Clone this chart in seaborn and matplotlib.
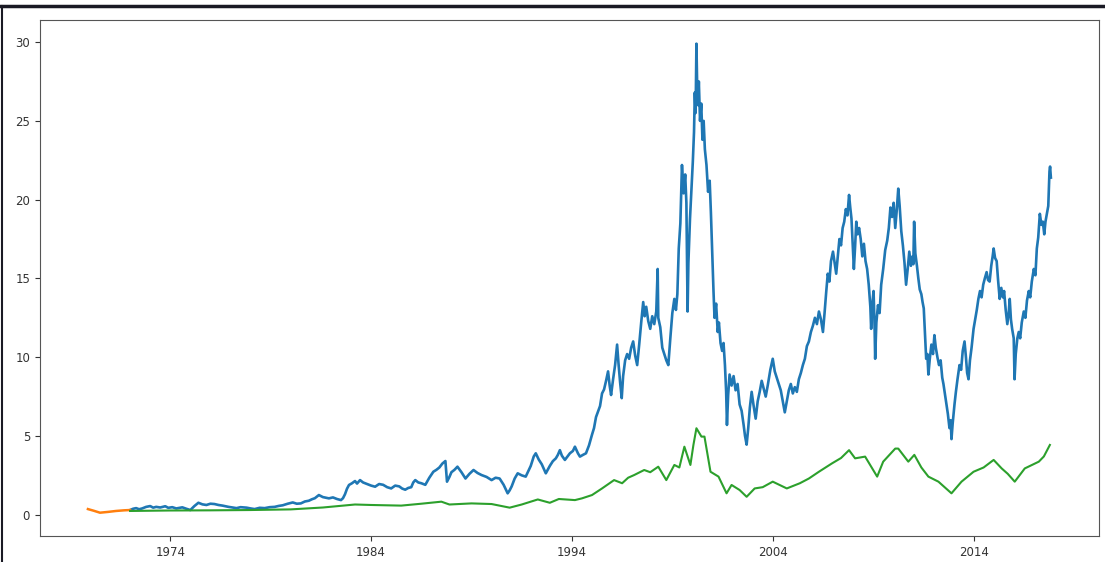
import numpy as np
import pandas as pd
import matplotlib
matplotlib.use("Agg")
import matplotlib.pyplot as plt
from matplotlib.lines import Line2D
import seaborn as sns

# -----------------------------------------------------------------------------
# DATA
# -----------------------------------------------------------------------------

# orange: short first segment
orange_year = [1969.9, 1970.2, 1970.5, 1970.9, 1971.3, 1971.7, 1972.0]
orange_value = [0.36, 0.25, 0.13, 0.18, 0.24, 0.28, 0.30]

# blue: noisy price series
blue_year = [
    1972.0, 1972.15, 1972.3, 1972.45, 1972.6, 1972.8, 1973.0, 1973.15, 1973.3, 1973.5,
    1973.75, 1973.9, 1974.1, 1974.3, 1974.6, 1974.8, 1975.0, 1975.2, 1975.4, 1975.6,
    1975.8, 1976.0, 1976.2, 1976.4, 1976.6, 1976.9, 1977.1, 1977.3, 1977.5, 1977.8,
    1978.0, 1978.2, 1978.45, 1978.7, 1978.95, 1979.2, 1979.4, 1979.6, 1979.85, 1980.1,
    1980.3, 1980.5, 1980.7, 1980.9, 1981.05, 1981.2, 1981.4, 1981.6, 1981.9, 1982.1,
    1982.3, 1982.5, 1982.6, 1982.7, 1982.8, 1982.9, 1983.05, 1983.2, 1983.3, 1983.45,
    1983.6, 1983.8, 1984.0, 1984.2, 1984.4, 1984.6, 1984.8, 1985.0, 1985.2, 1985.4,
    1985.55, 1985.7, 1985.85, 1986.0, 1986.1, 1986.2, 1986.35, 1986.5, 1986.7, 1986.9,
    1987.1, 1987.25, 1987.4, 1987.55, 1987.7, 1987.78, 1987.9, 1988.0, 1988.15, 1988.3,
    1988.5, 1988.7, 1988.9, 1989.1, 1989.3, 1989.5, 1989.75, 1990.0, 1990.2, 1990.4,
    1990.6, 1990.8, 1990.9, 1991.0, 1991.15, 1991.3, 1991.5, 1991.7, 1991.95, 1992.1,
    1992.2, 1992.35, 1992.5, 1992.7, 1992.9, 1993.05, 1993.2, 1993.3, 1993.4, 1993.5,
    1993.65, 1993.9, 1994.05, 1994.15, 1994.3, 1994.4, 1994.55, 1994.7, 1994.85, 1995.0,
    1995.1, 1995.2, 1995.3, 1995.4, 1995.5, 1995.6, 1995.7, 1995.8, 1995.88, 1995.95,
    1996.05, 1996.15, 1996.25, 1996.32, 1996.4, 1996.48, 1996.55, 1996.65, 1996.75, 1996.85,
    1996.95, 1997.05, 1997.15, 1997.25, 1997.35, 1997.45, 1997.55, 1997.62, 1997.7, 1997.8,
    1997.9, 1998.0, 1998.1, 1998.2, 1998.27, 1998.3, 1998.4, 1998.5, 1998.6, 1998.7,
    1998.8, 1998.9, 1999.0, 1999.1, 1999.18, 1999.25, 1999.32, 1999.4, 1999.48, 1999.56,
    1999.64, 1999.7, 1999.76, 1999.8, 1999.88, 1999.95, 2000.02, 2000.08, 2000.12, 2000.16,
    2000.2, 2000.24, 2000.28, 2000.32, 2000.38, 2000.44, 2000.5, 2000.56, 2000.62, 2000.7,
    2000.78, 2000.86, 2000.92, 2000.98, 2001.05, 2001.1, 2001.18, 2001.26, 2001.32, 2001.4,
    2001.48, 2001.55, 2001.62, 2001.68, 2001.72, 2001.78, 2001.85, 2001.95, 2002.05, 2002.15,
    2002.25, 2002.35, 2002.45, 2002.55, 2002.62, 2002.7, 2002.78, 2002.86, 2002.95, 2003.05,
    2003.15, 2003.25, 2003.35, 2003.45, 2003.55, 2003.65, 2003.75, 2003.88, 2004.0, 2004.1,
    2004.2, 2004.3, 2004.4, 2004.5, 2004.6, 2004.7, 2004.8, 2004.9, 2005.0, 2005.1,
    2005.2, 2005.3, 2005.4, 2005.5, 2005.6, 2005.7, 2005.8, 2005.9, 2006.0, 2006.1,
    2006.2, 2006.3, 2006.4, 2006.5, 2006.58, 2006.66, 2006.74, 2006.82, 2006.9, 2007.0,
    2007.08, 2007.16, 2007.24, 2007.32, 2007.4, 2007.48, 2007.56, 2007.64, 2007.72, 2007.8,
    2007.86, 2007.92, 2007.98, 2008.04, 2008.1, 2008.16, 2008.22, 2008.3, 2008.38, 2008.46,
    2008.54, 2008.62, 2008.7, 2008.78, 2008.86, 2008.9, 2008.96, 2009.02, 2009.07, 2009.1,
    2009.16, 2009.24, 2009.32, 2009.4, 2009.5, 2009.6, 2009.7, 2009.78, 2009.86, 2009.94,
    2010.02, 2010.1, 2010.18, 2010.25, 2010.32, 2010.4, 2010.48, 2010.56, 2010.64, 2010.72,
    2010.8, 2010.88, 2010.96, 2011.0, 2011.04, 2011.1, 2011.18, 2011.25, 2011.32, 2011.4,
    2011.46, 2011.52, 2011.58, 2011.64, 2011.7, 2011.75, 2011.82, 2011.9, 2011.98, 2012.05,
    2012.12, 2012.2, 2012.28, 2012.36, 2012.44, 2012.5, 2012.58, 2012.65, 2012.72, 2012.8,
    2012.86, 2012.9, 2012.96, 2013.05, 2013.12, 2013.2, 2013.3, 2013.38, 2013.46, 2013.55,
    2013.62, 2013.68, 2013.75, 2013.82, 2013.9, 2014.0, 2014.08, 2014.16, 2014.24, 2014.32,
    2014.4, 2014.48, 2014.56, 2014.65, 2014.72, 2014.8, 2014.88, 2014.95, 2015.0, 2015.07,
    2015.15, 2015.22, 2015.3, 2015.38, 2015.46, 2015.52, 2015.6, 2015.68, 2015.75, 2015.8,
    2015.86, 2015.92, 2016.0, 2016.04, 2016.1, 2016.18, 2016.25, 2016.32, 2016.4, 2016.5,
    2016.58, 2016.66, 2016.75, 2016.82, 2016.9, 2017.0, 2017.08, 2017.15, 2017.22, 2017.3,
    2017.38, 2017.45, 2017.52, 2017.58, 2017.65, 2017.72, 2017.78, 2017.81, 2017.85,
]
blue_value = [
    0.30, 0.38, 0.42, 0.35, 0.40, 0.50, 0.55, 0.45, 0.50, 0.46,
    0.54, 0.44, 0.48, 0.40, 0.47, 0.38, 0.30, 0.55, 0.76, 0.66,
    0.62, 0.70, 0.68, 0.62, 0.58, 0.50, 0.46, 0.42, 0.48, 0.45,
    0.40, 0.36, 0.44, 0.42, 0.48, 0.50, 0.56, 0.60, 0.70, 0.78,
    0.70, 0.72, 0.84, 0.89, 0.98, 1.05, 1.25, 1.12, 1.04, 1.10,
    1.00, 0.93, 1.05, 1.30, 1.65, 1.89, 2.00, 2.14, 1.98, 2.20,
    2.05, 1.95, 1.85, 1.78, 1.95, 1.90, 1.75, 1.67, 1.85, 1.80,
    1.66, 1.59, 1.70, 1.75, 2.05, 2.20, 2.05, 2.00, 1.90, 2.35,
    2.73, 2.85, 3.00, 3.25, 3.41, 2.10, 2.40, 2.70, 2.85, 3.05,
    2.70, 2.30, 2.60, 2.84, 2.65, 2.52, 2.40, 2.20, 2.35, 2.30,
    1.90, 1.36, 1.55, 1.80, 2.30, 2.63, 2.50, 2.42, 3.10, 3.70,
    3.90, 3.50, 3.20, 2.63, 3.10, 3.40, 3.58, 3.80, 4.10, 3.75,
    3.48, 3.90, 4.05, 4.32, 3.90, 3.69, 3.80, 3.90, 4.40, 5.08,
    5.50, 6.20, 6.55, 6.90, 7.70, 7.95, 8.50, 9.10, 8.20, 7.60,
    8.60, 9.50, 10.80, 9.60, 8.40, 7.40, 8.80, 9.80, 10.20, 9.90,
    10.60, 11.00, 10.10, 9.50, 10.80, 12.20, 13.50, 12.60, 13.20, 12.30,
    11.80, 12.60, 12.10, 12.90, 15.60, 12.50, 11.90, 10.60, 10.20, 9.80,
    9.50, 11.20, 12.80, 13.70, 13.00, 14.00, 16.90, 18.50, 22.20, 20.40,
    21.60, 19.80, 12.90, 16.00, 18.80, 20.60, 22.40, 24.30, 26.80, 25.50,
    29.90, 27.00, 26.00, 27.50, 25.00, 26.10, 23.80, 25.00, 23.20, 22.20,
    20.50, 21.20, 19.20, 16.80, 14.20, 12.50, 13.40, 11.60, 12.20, 10.90,
    10.40, 10.90, 9.50, 7.80, 5.70, 7.60, 8.90, 8.20, 8.80, 7.90,
    8.30, 7.00, 6.60, 5.70, 5.00, 4.45, 5.50, 6.80, 7.80, 6.90,
    6.10, 7.20, 7.80, 8.50, 8.00, 7.50, 8.20, 9.20, 9.90, 9.10,
    8.70, 8.30, 7.90, 7.20, 6.50, 7.20, 7.90, 8.30, 7.70, 8.10,
    7.80, 8.60, 9.00, 9.50, 9.90, 10.70, 11.00, 11.60, 12.00, 12.50,
    12.10, 12.90, 12.40, 11.60, 12.80, 14.10, 15.30, 14.80, 16.10, 16.70,
    16.00, 15.30, 16.40, 17.50, 17.10, 18.20, 18.60, 19.40, 19.00, 20.30,
    19.50, 18.80, 17.20, 15.60, 17.00, 18.60, 17.80, 18.20, 17.50, 16.40,
    17.20, 16.10, 15.60, 14.60, 13.20, 11.80, 13.40, 14.20, 12.00, 9.90,
    12.20, 13.30, 12.80, 14.60, 15.60, 16.80, 17.40, 18.20, 19.50, 18.90,
    19.80, 18.20, 19.40, 20.70, 19.60, 18.00, 17.10, 16.00, 14.60, 15.60,
    16.70, 15.80, 16.40, 15.90, 18.60, 16.60, 15.80, 15.00, 14.30, 14.00,
    13.50, 13.10, 11.50, 9.90, 10.20, 8.90, 9.90, 10.80, 10.20, 11.40,
    10.60, 10.00, 9.50, 9.80, 8.70, 8.30, 7.60, 7.00, 6.40, 5.50,
    6.00, 4.80, 5.80, 7.00, 7.80, 8.60, 9.50, 9.20, 10.40, 11.00,
    10.00, 9.00, 8.60, 9.80, 10.60, 11.80, 12.40, 13.00, 13.70, 14.20,
    13.80, 14.60, 15.00, 15.40, 14.90, 14.80, 15.80, 16.40, 16.90, 16.30,
    16.10, 14.90, 13.70, 14.40, 13.80, 14.20, 13.00, 12.10, 12.80, 13.70,
    12.40, 11.80, 11.20, 8.60, 10.20, 11.20, 11.60, 11.20, 12.20, 12.90,
    12.50, 13.60, 14.20, 13.80, 14.80, 15.60, 15.20, 16.90, 17.60, 19.10,
    18.40, 18.60, 17.80, 18.60, 19.10, 19.60, 21.80, 22.10, 21.40,
]

# green: smoother, lower series
green_year = [
    1972.0, 1974.0, 1976.0, 1978.0, 1980.0, 1981.6, 1983.2, 1984.0, 1985.5, 1986.5,
    1987.5, 1987.9, 1989.0, 1990.0, 1990.9, 1991.5, 1992.3, 1992.9, 1993.35, 1994.15,
    1994.5, 1995.0, 1995.5, 1996.1, 1996.5, 1996.8, 1997.1, 1997.6, 1997.9, 1998.3,
    1998.7, 1999.1, 1999.35, 1999.6, 1999.9, 2000.05, 2000.2, 2000.45, 2000.6, 2000.9,
    2001.3, 2001.7, 2001.95, 2002.35, 2002.7, 2003.1, 2003.5, 2004.0, 2004.7, 2005.35,
    2005.8, 2006.3, 2006.95, 2007.4, 2007.8, 2008.1, 2008.6, 2009.2, 2009.5, 2010.1,
    2010.25, 2010.75, 2011.05, 2011.4, 2011.75, 2012.25, 2012.9, 2013.4, 2014.0, 2014.5,
    2015.0, 2015.4, 2015.7, 2016.05, 2016.55, 2017.25, 2017.5, 2017.8,
]
green_value = [
    0.24, 0.27, 0.28, 0.30, 0.34, 0.46, 0.65, 0.62, 0.58, 0.70,
    0.83, 0.65, 0.72, 0.68, 0.45, 0.65, 0.97, 0.76, 1.00, 0.93,
    1.04, 1.25, 1.67, 2.20, 2.00, 2.35, 2.52, 2.84, 2.70, 3.05,
    2.20, 3.16, 3.00, 4.32, 3.16, 4.43, 5.49, 4.96, 4.96, 2.73,
    2.42, 1.36, 1.89, 1.57, 1.14, 1.67, 1.75, 2.10, 1.67, 2.00,
    2.30, 2.73, 3.26, 3.60, 4.10, 3.58, 3.69, 2.42, 3.37, 4.20,
    4.20, 3.37, 3.80, 3.00, 2.42, 2.10, 1.36, 2.10, 2.73, 3.00,
    3.48, 2.94, 2.60, 2.10, 2.94, 3.37, 3.70, 4.43,
]

tick_years = [1974, 1984, 1994, 2004, 2014]
y_ticks = [0, 5, 10, 15, 20, 25, 30]

# -----------------------------------------------------------------------------
# PLOT
# -----------------------------------------------------------------------------

plt.rcParams["font.family"] = ["DejaVu Sans"]
plt.rcParams["font.size"] = 8.5

fig = plt.figure(figsize=(11.05, 5.62), dpi=100)
ax = fig.add_axes([0.036, 0.046, 0.9586, 0.918])

sns.lineplot(x=blue_year, y=blue_value, color="#1f77b4", linewidth=1.9, ax=ax)
sns.lineplot(x=orange_year, y=orange_value, color="#ff7f0e", linewidth=1.8, ax=ax)
sns.lineplot(x=green_year, y=green_value, color="#2ca02c", linewidth=1.5, ax=ax)

ax.set_xticks(tick_years)
ax.set_xticklabels([str(y) for y in tick_years])
ax.set_yticks(y_ticks)
ax.tick_params(labelsize=8.5, colors="#333333")
for sp in ax.spines.values():
    sp.set_color("#555555")

# screenshot frame edges
fig.add_artist(Line2D([0, 1], [0.99, 0.99], color="#1a1a24", linewidth=2.5))
fig.add_artist(Line2D([0.002, 0.002], [0, 0.99], color="#1a1a24", linewidth=1.5))

fig.savefig("out.png", dpi=100)
plt.close(fig)
